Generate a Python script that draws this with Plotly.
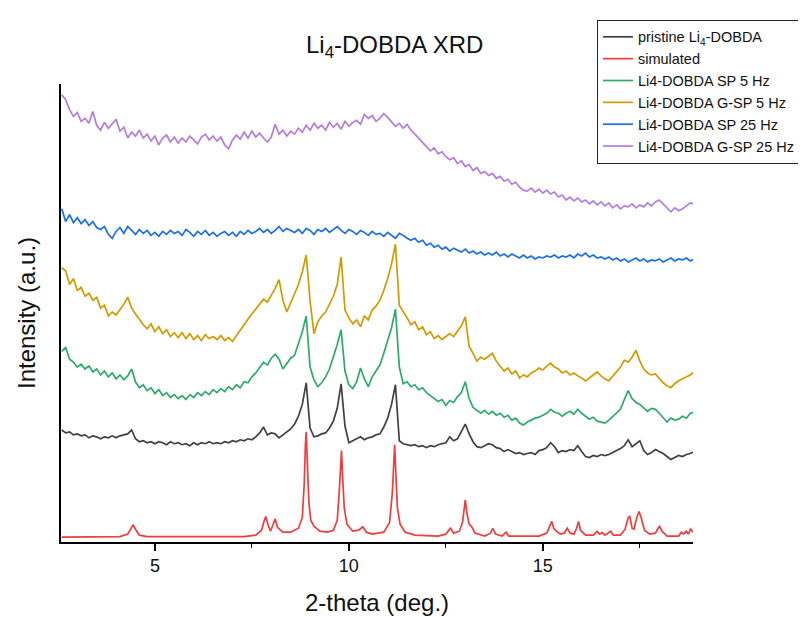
import plotly.graph_objects as go

# Shared 2-theta sampling grid (deg.) for the measured patterns
two_theta = [
    2.6, 2.7, 2.8, 2.9, 3.0, 3.1, 3.2, 3.3, 3.4, 3.5,
    3.6, 3.7, 3.8, 3.9, 4.0, 4.1, 4.2, 4.3, 4.4, 4.5,
    4.6, 4.7, 4.8, 4.9, 5.0, 5.1, 5.2, 5.3, 5.4, 5.5,
    5.6, 5.7, 5.8, 5.9, 6.0, 6.1, 6.2, 6.3, 6.4, 6.5,
    6.6, 6.7, 6.8, 6.9, 7.0, 7.1, 7.2, 7.3, 7.4, 7.5,
    7.6, 7.7, 7.8, 7.9, 8.0, 8.1, 8.2, 8.3, 8.4, 8.5,
    8.6, 8.7, 8.8, 8.9, 9.0, 9.1, 9.2, 9.3, 9.4, 9.5,
    9.6, 9.7, 9.8, 9.9, 10.0, 10.1, 10.2, 10.3, 10.4, 10.5,
    10.6, 10.7, 10.8, 10.9, 11.0, 11.1, 11.2, 11.3, 11.4, 11.5,
    11.6, 11.7, 11.8, 11.9, 12.0, 12.1, 12.2, 12.3, 12.4, 12.5,
    12.6, 12.7, 12.8, 12.9, 13.0, 13.1, 13.2, 13.3, 13.4, 13.5,
    13.6, 13.7, 13.8, 13.9, 14.0, 14.1, 14.2, 14.3, 14.4, 14.5,
    14.6, 14.7, 14.8, 14.9, 15.0, 15.1, 15.2, 15.3, 15.4, 15.5,
    15.6, 15.7, 15.8, 15.9, 16.0, 16.1, 16.2, 16.3, 16.4, 16.5,
    16.6, 16.7, 16.8, 16.9, 17.0, 17.1, 17.2, 17.3, 17.4, 17.5,
    17.6, 17.7, 17.8, 17.9, 18.0, 18.1, 18.2, 18.3, 18.4, 18.5,
    18.6, 18.7, 18.8, 18.9,
]

pristine = [
    114, 111, 112, 109, 110, 108, 109, 106, 108, 107,
    105, 107, 106, 108, 106, 108, 109, 110, 114, 105,
    102, 103, 101, 102, 100, 102, 101, 99, 102, 100,
    101, 99, 100, 98, 101, 99, 101, 100, 102, 100,
    101, 100, 102, 101, 103, 102, 104, 103, 105, 104,
    107, 111, 117, 109, 111, 110, 106, 109, 112, 115,
    120, 128, 140, 162, 116, 107, 108, 110, 111, 116,
    123, 136, 161, 118, 101, 103, 105, 107, 104, 106,
    107, 109, 110, 117, 126, 140, 160, 103, 100, 99,
    98, 99, 97, 98, 96, 98, 97, 99, 100, 101,
    107, 103, 105, 112, 120, 110, 102, 97, 96, 98,
    100, 99, 96, 95, 92, 94, 92, 90, 91, 89,
    90, 91, 89, 93, 94, 96, 101, 97, 91, 93,
    92, 94, 93, 98, 92, 87, 86, 88, 87, 89,
    88, 89, 91, 93, 95, 98, 104, 97, 100, 103,
    93, 89, 91, 94, 92, 90, 87, 84, 86, 88,
    87, 89, 90, 92,
]

sp_5hz = [
    194, 198, 186, 183, 178, 181, 176, 179, 173, 176,
    170, 174, 168, 172, 166, 170, 165, 169, 176, 163,
    157, 160, 154, 157, 151, 155, 149, 152, 147, 150,
    146, 149, 145, 150, 147, 152, 149, 153, 150, 155,
    152, 156, 153, 158, 155, 160, 157, 163, 162, 168,
    172, 178, 183, 180, 187, 191, 186, 176, 182, 187,
    190, 203, 214, 230, 178, 165, 158, 162, 168, 176,
    188, 201, 216, 174, 160, 156, 163, 177, 166, 158,
    168, 174, 180, 192, 205, 218, 237, 178, 161, 163,
    158, 160, 155, 157, 152, 149, 146, 143, 145, 139,
    144, 142, 148, 152, 163, 146, 137, 134, 131, 134,
    130, 133, 129, 131, 127, 129, 124, 126, 121, 119,
    122, 124, 126, 127, 129, 131, 135, 132, 131, 128,
    131, 133, 130, 135, 131, 128, 125, 127, 123, 122,
    121, 124, 128, 132, 135, 145, 154, 146, 142, 140,
    136, 133, 136, 135, 131, 127, 122, 126, 124, 125,
    128, 126, 131, 132,
]

gsp_5hz = [
    279, 276, 262, 268, 256, 259, 250, 253, 246, 249,
    238, 241, 230, 234, 231, 236, 242, 249, 238, 232,
    226, 221, 217, 222, 214, 219, 212, 216, 209, 213,
    208, 213, 207, 212, 206, 210, 205, 211, 207, 209,
    206, 210, 205, 208, 204, 210, 215, 222, 227, 232,
    237, 243, 247, 244, 251, 258, 267, 246, 234, 243,
    252, 262, 275, 292, 245, 212, 224, 230, 234, 242,
    250, 262, 290, 236, 228, 222, 226, 219, 230, 226,
    236, 240, 246, 256, 268, 283, 303, 241, 235, 228,
    221, 224, 216, 219, 211, 214, 207, 210, 206, 209,
    212, 209, 215, 220, 229, 199, 192, 184, 188, 186,
    189, 192, 184, 179, 174, 177, 171, 174, 167, 170,
    168, 172, 174, 177, 175, 179, 182, 178, 176, 172,
    174, 170, 172, 169, 167, 164, 167, 170, 173, 169,
    166, 164, 169, 174, 178, 185, 183, 188, 195, 184,
    176, 172, 170, 171, 166, 162, 159, 157, 161, 164,
    166, 168, 170, 173,
]

sp_25hz = [
    339, 326, 333, 325, 330, 324, 328, 322, 326, 320,
    318, 321, 313, 309, 316, 320, 314, 321, 317, 313,
    318, 314, 317, 312, 315, 311, 316, 313, 317, 314,
    316, 312, 318, 315, 311, 316, 313, 317, 312, 315,
    311, 314, 316, 312, 315, 311, 316, 313, 317, 314,
    316, 319, 315, 318, 314, 317, 321, 316, 319, 317,
    315, 318, 314, 319, 317, 313, 318, 316, 319, 315,
    318, 321, 317, 314, 318, 316, 313, 317, 315, 312,
    316, 313, 314, 311, 315, 312, 309, 314, 312, 309,
    307, 309, 305, 307, 302, 304, 300, 302, 298, 300,
    296, 299, 297, 295, 298, 294, 296, 293, 295, 292,
    294, 292, 295, 291, 293, 290, 293, 291, 289, 292,
    289, 291, 288, 290, 289, 291, 290, 292, 289, 291,
    290, 292, 289, 293, 291, 294, 290, 292, 289, 290,
    288, 290, 287, 289, 286, 288, 285, 287, 289, 286,
    288, 285, 287, 286, 288, 285, 287, 289, 286, 288,
    287, 289, 286, 288,
]

gsp_25hz = [
    455, 450, 440, 433, 437, 428, 431, 426, 438, 424,
    419, 427, 421, 426, 430, 418, 422, 411, 417, 413,
    419, 411, 415, 408, 413, 404, 411, 414, 407, 412,
    406, 411, 407, 413, 409, 405, 412, 415, 409, 413,
    408, 412, 404, 400, 409, 414, 410, 417, 411, 418,
    412, 416, 411, 407, 412, 425, 415, 419, 413, 418,
    415, 421, 417, 424, 419, 426, 421, 424, 419, 427,
    422, 426, 420, 428, 423, 427, 429, 425, 435, 431,
    434, 428, 431, 436, 432, 428, 423, 426, 421, 425,
    419, 415, 411, 406, 403, 398, 401, 395, 397, 392,
    389, 391, 385, 388, 382, 384, 378, 381, 375, 377,
    373, 375, 370, 372, 367, 369, 364, 366, 361, 358,
    357, 360, 356, 359, 355, 358, 354, 356, 351, 353,
    348, 351, 347, 350, 346, 348, 344, 347, 343, 346,
    342, 345, 340, 343, 339, 342, 341, 344, 340, 343,
    341, 345, 342, 346, 348, 344, 339, 336, 340, 337,
    339, 342, 345, 344,
]

# Simulated pattern (own, finer sampling around the reflections)
sim_theta = [
    2.6, 4.1, 4.3, 4.38, 4.44, 4.5, 4.6, 4.8, 7.3, 7.6, 7.75, 7.82, 7.86, 7.92,
    7.98, 8.04, 8.1, 8.16, 8.3, 8.5, 8.7, 8.8, 8.85, 8.88, 8.9, 8.93, 8.97, 9.02,
    9.1, 9.25, 9.45, 9.6, 9.7, 9.75, 9.79, 9.81, 9.84, 9.88, 9.95, 10.1, 10.25,
    10.36, 10.45, 10.6, 10.9, 11.05, 11.12, 11.16, 11.18, 11.21, 11.25, 11.32,
    11.45, 11.7, 12.3, 12.5, 12.62, 12.7, 12.85, 12.93, 12.98, 13.0, 13.04, 13.1,
    13.16, 13.25, 13.5, 13.65, 13.71, 13.78, 13.95, 14.05, 14.12, 14.9, 15.1,
    15.18, 15.23, 15.28, 15.35, 15.45, 15.55, 15.63, 15.7, 15.8, 15.87, 15.92,
    15.97, 16.1, 16.3, 16.4, 16.46, 16.53, 16.6, 16.75, 16.82, 17.0, 17.12, 17.2,
    17.24, 17.3, 17.35, 17.42, 17.48, 17.54, 17.62, 17.75, 17.9, 17.97, 18.01,
    18.07, 18.2, 18.5, 18.57, 18.63, 18.7, 18.75, 18.81, 18.87,
]
sim_intensity = [
    5, 5.5, 8, 14, 17.5, 13, 7, 5.5, 5.5, 7, 12, 22, 26, 17,
    11, 17, 23.5, 15, 10, 10, 14, 25, 60, 100, 112, 80, 40, 22,
    16, 11, 10, 12, 22, 50, 85, 93, 65, 35, 18, 11, 12,
    15.5, 10, 8, 10, 20, 50, 90, 99, 70, 35, 18,
    10, 7, 6, 8, 14, 9, 11, 20, 38, 43, 30, 18,
    16, 9, 6, 9, 14, 8, 6, 10, 6, 6, 9,
    17, 21, 14, 11, 8, 9, 14, 9, 8, 14, 21,
    12, 7, 7, 11, 8, 9.5, 7, 11, 7, 7, 13, 25,
    26, 14, 13, 25, 31, 24, 12, 8, 9, 14, 16,
    11, 6, 6, 10, 8, 11, 8, 13, 10,
]

series = [
    ("pristine Li<sub>4</sub>-DOBDA", two_theta, pristine, "#404040"),
    ("simulated", sim_theta, sim_intensity, "#f23c3c"),
    ("Li4-DOBDA SP 5 Hz", two_theta, sp_5hz, "#2eaa6a"),
    ("Li4-DOBDA G-SP 5 Hz", two_theta, gsp_5hz, "#d19b00"),
    ("Li4-DOBDA SP 25 Hz", two_theta, sp_25hz, "#1b6fe3"),
    ("Li4-DOBDA G-SP 25 Hz", two_theta, gsp_25hz, "#b27ddf"),
]

FONT = "Arial, Liberation Sans, sans-serif"
TXT = "#111111"

fig = go.Figure()
for name, xs, ys, color in series:
    fig.add_trace(go.Scatter(x=xs, y=ys, mode="lines", name=name,
                             line=dict(color=color, width=1.7)))

fig.update_layout(
    width=806, height=617,
    margin=dict(l=53, r=121, t=68, b=83),
    paper_bgcolor="white", plot_bgcolor="white",
    font=dict(family=FONT, color=TXT),
    title=dict(text="Li<sub>4</sub>-DOBDA XRD", x=0.528, xref="paper",
               xanchor="center", y=0.940, yanchor="middle",
               font=dict(size=24, family=FONT, color=TXT)),
    showlegend=True,
    legend=dict(x=0.848, y=1.140, xanchor="left", yanchor="top",
                bgcolor="white", bordercolor="#222222", borderwidth=1,
                font=dict(size=14.5, family=FONT, color=TXT),
                tracegroupgap=0, itemwidth=30),
    xaxis=dict(range=[2.58, 18.87], dtick=5, tick0=0, ticks="outside",
               ticklen=7, tickwidth=1.5, tickcolor="black",
               showline=True, linecolor="black", linewidth=1.6,
               showgrid=False, zeroline=False,
               tickfont=dict(size=18, family=FONT, color=TXT),
               minor=dict(dtick=2.5, tick0=0, ticks="outside", ticklen=4,
                          tickwidth=1.3, tickcolor="black", showgrid=False),
               title=dict(text="2-theta (deg.)", standoff=19,
                          font=dict(size=24, family=FONT, color=TXT))),
    yaxis=dict(range=[0, 466], showline=True, linecolor="black", linewidth=1.6,
               showticklabels=False, ticks="", showgrid=False, zeroline=False,
               title=dict(text="Intensity (a.u.)", standoff=17,
                          font=dict(size=24, family=FONT, color=TXT))),
)

fig.write_html("out.html")
